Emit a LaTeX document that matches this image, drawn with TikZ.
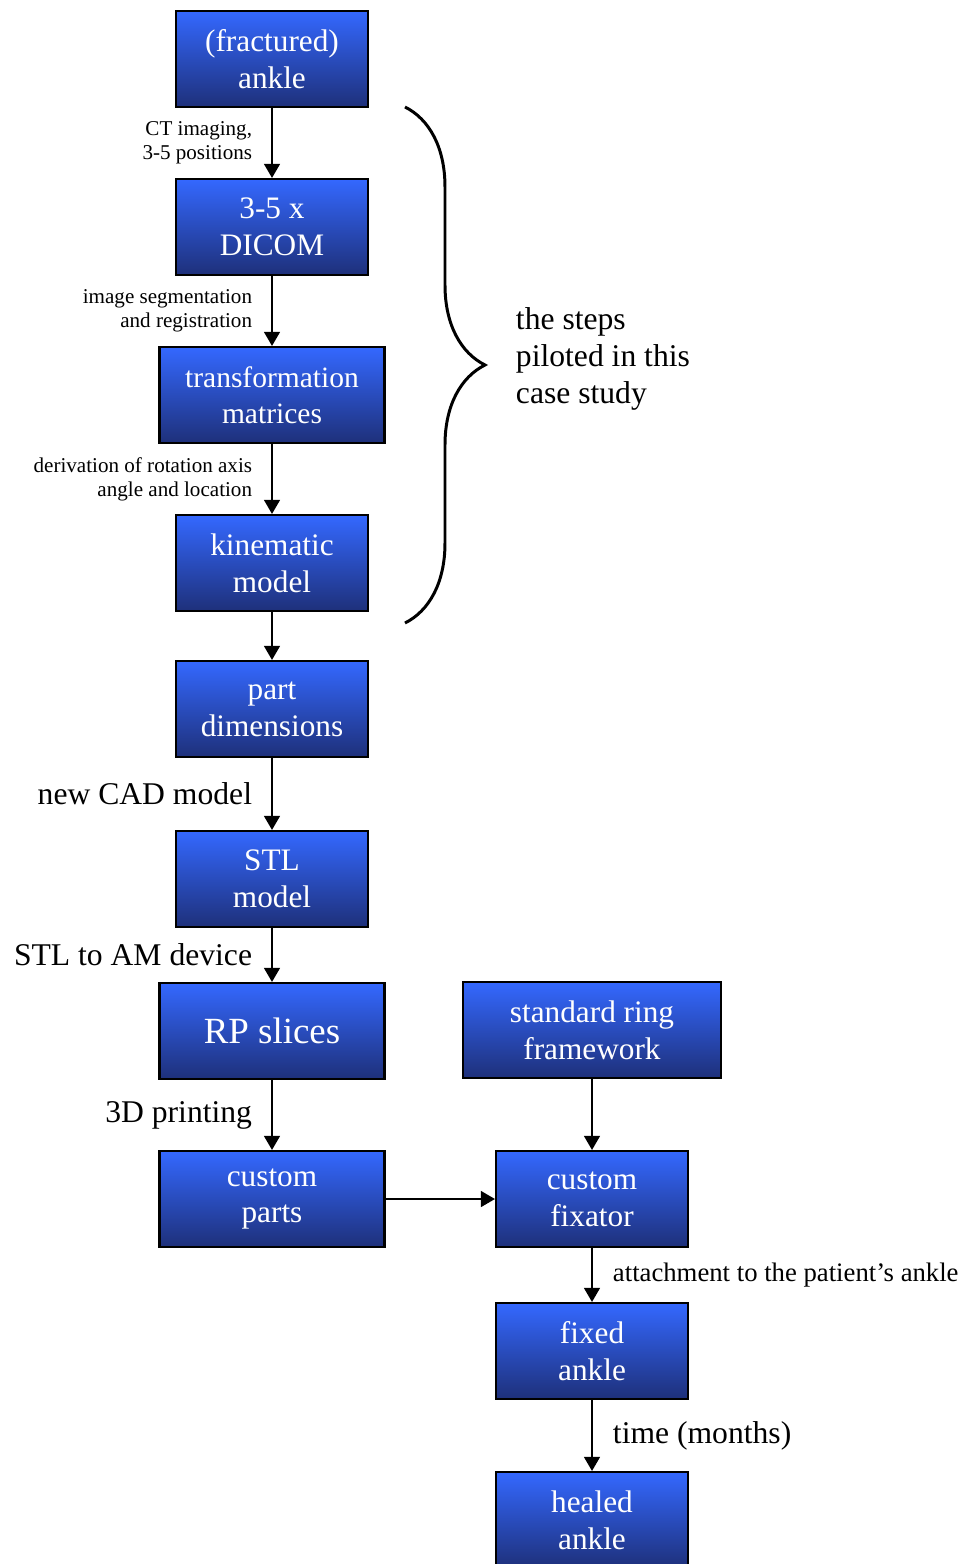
\documentclass[tikz,border=0pt]{standalone}
\usepackage{fontspec}
\setmainfont{Liberation Serif}
\usepackage{xcolor}
\usepackage{tikz}
\usetikzlibrary{arrows.meta,decorations.pathreplacing}

\definecolor{boxtop}{RGB}{52,104,255}
\definecolor{boxbot}{RGB}{30,48,122}

\begin{document}
\begin{tikzpicture}[x=0.02cm,y=-0.02cm,line width=1.1pt,
    >={Triangle[length=8pt,width=9pt]},
    blk/.style={draw,line width=1.2pt,top color=boxtop,bottom color=boxbot,
        text=white,align=center,minimum width=3.84cm,minimum height=1.92cm,
        inner sep=2pt,font=\fontsize{17.8}{21}\selectfont},
    wide/.style={blk,minimum width=4.5cm},
    small/.style={left=0.38cm,inner sep=0pt,align=right,font=\fontsize{12}{13.6}\selectfont},
    big/.style={left=0.38cm,inner sep=0pt,align=right,font=\fontsize{18}{21}\selectfont},
    bigr/.style={right=0.4cm,inner sep=0pt,align=left,font=\fontsize{18}{21}\selectfont}]
    \useasboundingbox (0,0) rectangle (963,1564);
    \node[blk] (ankle) at (272,59) {(fractured)\\ankle};
    \node[blk] (dicom) at (272,227) {3-5 x\\DICOM};
    \node[wide,font=\fontsize{16.8}{20.5}\selectfont] (trans) at (272,395) {transformation\\matrices};
    \node[blk] (kin) at (272,563) {kinematic\\model};
    \node[blk] (dims) at (272,709) {part\\dimensions};
    \node[blk] (stl) at (272,879) {STL\\model};
    \node[wide,font=\fontsize{21}{24}\selectfont] (rp) at (272,1031) {RP slices};
    \node[blk,minimum width=5.16cm] (ring) at (592,1030) {standard ring\\framework};
    \node[wide] (parts) at (272,1199) {custom\\parts};
    \node[blk] (fix) at (592,1199) {custom\\fixator};
    \node[blk] (fixed) at (592,1351) {fixed\\ankle};
    \node[blk] (healed) at (592,1520) {healed\\ankle};
    \draw[->] (ankle) -- node[small] {CT imaging,\\3-5 positions} (dicom);
    \draw[->] (dicom) -- node[small] {image segmentation\\and registration} (trans);
    \draw[->] (trans) -- node[small] {derivation of rotation axis\\angle and location} (kin);
    \draw[->] (kin) -- (dims);
    \draw[->] (dims) -- node[big] {new CAD model} (stl);
    \draw[->] (stl) -- node[big] {STL to AM device} (rp);
    \draw[->] (rp) -- node[big] {3D printing} (parts);
    \draw[->] (parts) -- (fix);
    \draw[->] (ring) -- (fix);
    \draw[->] (fix) -- node[bigr,font=\fontsize{15.2}{18}\selectfont] {attachment to the patient’s ankle} (fixed);
    \draw[->] (fixed) -- node[bigr] {time (months)} (healed);
    % brace over the piloted steps
    \draw[line width=1.7pt,decorate,decoration={brace,amplitude=1.6cm}] (405,107) -- (405,623);
    \node[anchor=west,align=left,inner sep=0pt,font=\fontsize{18}{21}\selectfont] (steps) at (515,359) {the steps\\piloted in this\\case study};
\end{tikzpicture}
\end{document}
